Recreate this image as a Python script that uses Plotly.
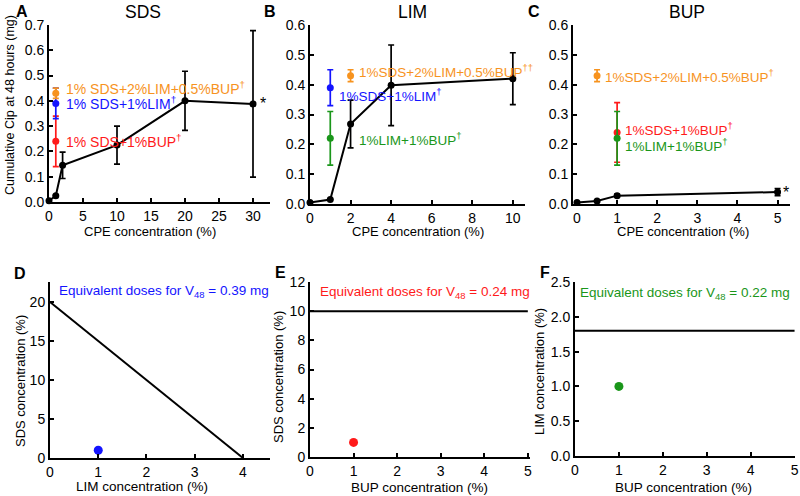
import plotly.graph_objects as go

# ---- data ----
# Panel A: SDS alone
sds_x = [0, 1, 2, 10, 20, 30]
sds_y = [0.005, 0.025, 0.145, 0.225, 0.40, 0.388]
sds_err = [0, 0, 0.052, 0.075, 0.117, 0.29]

# Panel B: LIM alone
lim_x = [0, 1, 2, 4, 10]
lim_y = [0.005, 0.015, 0.268, 0.398, 0.42]
lim_err = [0, 0, 0.08, 0.135, 0.087]

# Panel C: BUP alone
bup_x = [0, 0.5, 1, 5]
bup_y = [0.005, 0.01, 0.028, 0.04]
bup_err = [0, 0.004, 0.005, 0.012]

# combinations (mean, sd)
combo_sds_lim_bup = (0.43, 0.02)   # 1% SDS + 2% LIM + 0.5% BUP
combo_sds_lim = (0.39, 0.06)       # 1% SDS + 1% LIM
combo_sds_bup = (0.24, 0.10)       # 1% SDS + 1% BUP
combo_lim_bup = (0.22, 0.09)       # 1% LIM + 1% BUP

# Panels D-F: iso-effect lines
iso_d_x = [0, 4]
iso_d_y = [20, 0]
iso_e_x = [0, 5]
iso_e_y = [10, 10]
iso_f_x = [0, 5]
iso_f_y = [1.8, 1.8]
combo_point = [1, 1]

ORANGE = "#F7931E"
BLUE = "#1414FF"
RED = "#FF1A1A"
GREEN = "#1A961A"
FONT = "Liberation Sans, Arial, sans-serif"

W, H = 800, 496


def px(v):
    return v / W


def py(v):
    return 1 - v / H


fig = go.Figure()


def add_err(xs, ys, err, color, ax, line=False):
    fig.add_trace(go.Scatter(
        x=xs, y=ys, mode="lines+markers" if line else "markers",
        line=dict(color=color, width=2),
        marker=dict(color=color, size=7),
        error_y=dict(type="data", array=err, color=color, thickness=1.7, width=3),
        xaxis="x" + ax, yaxis="y" + ax, cliponaxis=False, showlegend=False,
    ))


# A
add_err([1], [combo_sds_bup[0]], [combo_sds_bup[1]], RED, "")
add_err([1], [combo_sds_lim[0]], [combo_sds_lim[1]], BLUE, "")
add_err([1], [combo_sds_lim_bup[0]], [combo_sds_lim_bup[1]], ORANGE, "")
add_err(sds_x, sds_y, sds_err, "black", "", line=True)
# B
add_err([1], [combo_lim_bup[0]], [combo_lim_bup[1]], GREEN, "2")
add_err([1], [combo_sds_lim[0]], [combo_sds_lim[1]], BLUE, "2")
add_err([2], [combo_sds_lim_bup[0]], [combo_sds_lim_bup[1]], ORANGE, "2")
add_err(lim_x, lim_y, lim_err, "black", "2", line=True)
# C
add_err([1], [combo_sds_bup[0]], [combo_sds_bup[1]], RED, "3")
add_err([1], [combo_lim_bup[0]], [combo_lim_bup[1]], GREEN, "3")
add_err([0.5], [combo_sds_lim_bup[0]], [combo_sds_lim_bup[1]], ORANGE, "3")
add_err(bup_x, bup_y, bup_err, "black", "3", line=True)

# D, E, F
for xs, ys, col, ax in [(iso_d_x, iso_d_y, BLUE, "4"),
                        (iso_e_x, iso_e_y, RED, "5"),
                        (iso_f_x, iso_f_y, GREEN, "6")]:
    fig.add_trace(go.Scatter(x=xs, y=ys, mode="lines", line=dict(color="black", width=2),
                             xaxis="x" + ax, yaxis="y" + ax, showlegend=False))
    fig.add_trace(go.Scatter(x=[combo_point[0]], y=[combo_point[1]], mode="markers",
                             marker=dict(color=col, size=9), cliponaxis=False,
                             xaxis="x" + ax, yaxis="y" + ax, showlegend=False))

axis_common = dict(showline=True, linecolor="black", linewidth=2, ticks="inside",
                   ticklen=4, tickwidth=1.5, tickcolor="black", showgrid=False,
                   zeroline=False, automargin=False,
                   tickfont=dict(size=14, color="black", family=FONT))

# (x domain px, y domain px, x range, x dtick, y range, y dtick, y format)
panels = [
    ("", (49, 270), (202, 25), [0, 32.5], 5, [0, 0.7], 0.1, ".1f"),
    ("2", (310, 525), (204, 25), [0, 10.6], 2, [0, 0.6], 0.1, ".1f"),
    ("3", (573, 790), (204, 25), [-0.1, 5.31], 1, [0, 0.6], 0.1, ".1f"),
    ("4", (50, 270), (458, 282), [0, 4.56], 1, [0, 22.56], 5, ""),
    ("5", (310, 530), (457, 282), [0, 5.05], 1, [0, 12], 2, ""),
    ("6", (575, 795), (456, 282), [0, 5.01], 1, [0, 2.5], 0.5, ".1f"),
]
layout_axes = {}
for ax, (x0, x1), (y0, y1), xr, xd, yr, yd, yf in panels:
    layout_axes["xaxis" + ax] = dict(axis_common, domain=[px(x0), px(x1)], range=xr,
                                     dtick=xd, tick0=0, anchor="y" + ax)
    layout_axes["yaxis" + ax] = dict(axis_common, domain=[py(y0), py(y1)], range=yr,
                                     dtick=yd, tick0=0, tickformat=yf, anchor="x" + ax)

annotations = []


def note(text, x, y, ref="paper", color="black", size=13.5, xanchor="center", angle=0, bold=False):
    if ref == "paper":
        x, y, xr, yr = px(x), py(y), "paper", "paper"
    else:
        xr, yr = "x" + ref, "y" + ref
    if bold:
        text = "<b>" + text + "</b>"
    annotations.append(dict(text=text, x=x, y=y, xref=xr, yref=yr, showarrow=False,
                            xanchor=xanchor, yanchor="middle", textangle=angle,
                            font=dict(size=size, color=color, family=FONT)))


dag = "<sup>†</sup>"
# panel letters & titles
for letter, x, y in [("A", 22, 12), ("B", 270, 11), ("C", 534, 12),
                     ("D", 20, 273), ("E", 280, 272), ("F", 545, 272)]:
    note(letter, x, y, size=16, bold=True)
for t, x in [("SDS", 143), ("LIM", 412), ("BUP", 687)]:
    note(t, x, 12, size=17.5)

# axis titles
for x in (150, 418, 683):
    note("CPE concentration (%)", x, 231, size=13)
note("Cumulative Cip at 48 hours (mg)", 10, 105, size=12.5, angle=-90)
note("LIM concentration (%)", 142, 486, size=13.5)
note("BUP concentration (%)", 419, 487, size=13.5)
note("BUP concentration (%)", 683, 487, size=13.5)
note("SDS concentration (%)", 20, 381, size=13, angle=-90)
note("SDS concentration (%)", 278, 377, size=13, angle=-90)
note("LIM concentration (%)", 539, 372, size=13, angle=-90)

# curve labels
note("1% SDS+2%LIM+0.5%BUP" + dag, 2.2, 0.45, "", ORANGE, size=14, xanchor="left")
note("1% SDS+1%LIM" + dag, 2.2, 0.39, "", BLUE, size=14, xanchor="left")
note("1% SDS+1%BUP" + dag, 2.2, 0.24, "", RED, size=14, xanchor="left")
note("*", 30.8, 0.39, "", xanchor="left", size=16)

note("1%SDS+2%LIM+0.5%BUP" + "<sup>††</sup>", 2.3, 0.446, "2", ORANGE, xanchor="left")
note("1%SDS+1%LIM" + dag, 1.33, 0.365, "2", BLUE, xanchor="left")
note("1%LIM+1%BUP" + dag, 2.3, 0.218, "2", GREEN, xanchor="left")

note("1%SDS+2%LIM+0.5%BUP" + dag, 0.65, 0.429, "3", ORANGE, xanchor="left")
note("1%SDS+1%BUP" + dag, 1.15, 0.251, "3", RED, xanchor="left")
note("1%LIM+1%BUP" + dag, 1.15, 0.198, "3", GREEN, xanchor="left")
note("*", 5.09, 0.04, "3", xanchor="left", size=16)

note("Equivalent doses for V<sub>48</sub> = 0.39 mg", 0.15, 21.3, "4", BLUE, xanchor="left")
note("Equivalent doses for V<sub>48</sub> = 0.24 mg", 0.18, 11.25, "5", RED, xanchor="left")
note("Equivalent doses for V<sub>48</sub> = 0.22 mg", 0.07, 2.34, "6", GREEN, xanchor="left")

fig.update_layout(
    width=W, height=H, margin=dict(l=0, r=0, t=0, b=0),
    plot_bgcolor="white", paper_bgcolor="white",
    font=dict(family=FONT, color="black"),
    annotations=annotations, **layout_axes,
)

# drop the browser's default 8px body margin so the figure sits at the window origin
fig.write_html("out.html", config={"displayModeBar": False},
               post_script="document.body.style.margin='0';")
